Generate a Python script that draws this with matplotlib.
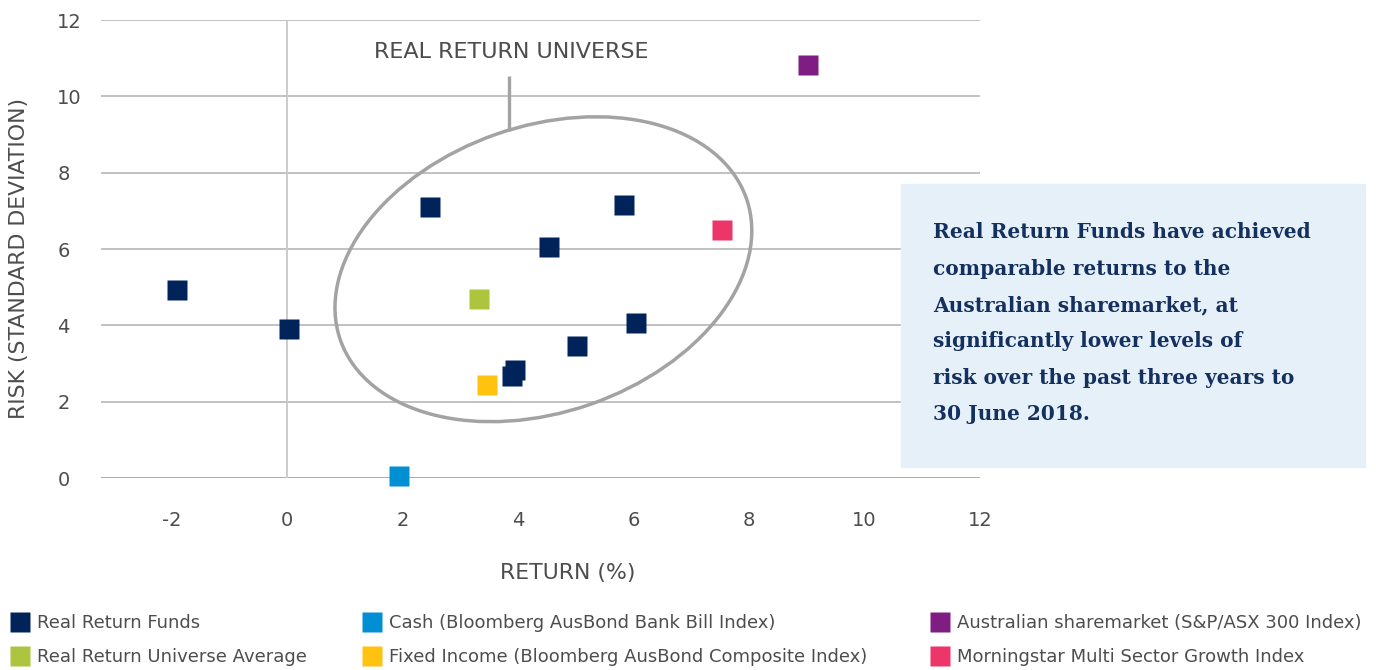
import matplotlib.pyplot as plt
from matplotlib.patches import Ellipse, Rectangle
from matplotlib.lines import Line2D
from matplotlib.transforms import ScaledTranslation

# data: return (%) vs risk (standard deviation)
funds_return = [-1.91, 0.04, 2.48, 4.53, 5.84, 6.05, 5.03, 3.94, 3.89]
funds_risk = [4.93, 3.90, 7.10, 6.05, 7.15, 4.07, 3.46, 2.84, 2.68]

universe_avg_return = [3.32]
universe_avg_risk = [4.69]
cash_return = [1.94]
cash_risk = [0.05]
fixed_income_return = [3.47]
fixed_income_risk = [2.44]
shares_return = [9.03]
shares_risk = [10.81]
morningstar_return = [7.54]
morningstar_risk = [6.50]

x_ticks = [-2, 0, 2, 4, 6, 8, 10, 12]
y_ticks = [0, 2, 4, 6, 8, 10, 12]

series = [
    ('Real Return Funds', funds_return, funds_risk, '#00245a'),
    ('Real Return Universe Average', universe_avg_return, universe_avg_risk, '#adc43f'),
    ('Cash (Bloomberg AusBond Bank Bill Index)', cash_return, cash_risk, '#008fd3'),
    ('Fixed Income (Bloomberg AusBond Composite Index)', fixed_income_return, fixed_income_risk, '#ffc20e'),
    ('Australian sharemarket (S&P/ASX 300 Index)', shares_return, shares_risk, '#801d82'),
    ('Morningstar Multi Sector Growth Index', morningstar_return, morningstar_risk, '#ec3569'),
]

callout = ['Real Return Funds have achieved',
           'comparable returns to the',
           'Australian sharemarket, at',
           'significantly lower levels of',
           'risk over the past three years to',
           '30 June 2018.']

grey_text = '#4d4d4f'
W, H = 1376, 670

fig = plt.figure(figsize=(13.76, 6.70), dpi=100)
ax = fig.add_axes([101 / W, 1 - 478 / H, (980 - 101) / W, (478 - 20) / H])
ax.set_xlim(-3.22, 12)
ax.set_ylim(0, 12)
for s in ax.spines.values():
    s.set_visible(False)

# gridlines
for yv in y_ticks:
    ax.axhline(yv, color='#a8a8a8' if yv == 0 else '#bcbcbc', lw=1.3, zorder=1)
ax.plot([0, 0], [0, 12], color='#c8c8c8', lw=1.3, zorder=1)

ms = 13.7
for name, xs, ys, col in series:
    ax.plot(xs, ys, ls='none', marker='s', ms=ms, color=col, mec='none',
            clip_on=False, zorder=5)

# universe ellipse (size in inches around a data-space centre)
ell = Ellipse((0, 0), width=4.30, height=2.86, angle=19.2, fill=False,
              ec='#a3a3a5', lw=2.5,
              transform=fig.dpi_scale_trans + ScaledTranslation(4.44, 5.47, ax.transData),
              zorder=4)
ax.add_patch(ell)
ax.plot([3.84, 3.84], [9.10, 10.52], color='#a3a3a5', lw=2.4, zorder=4, solid_capstyle='butt')
ax.text(3.88, 11.16, 'REAL RETURN UNIVERSE', ha='center', va='center',
        fontsize=16, color=grey_text)

ax.set_xticks(x_ticks)
ax.set_xticklabels([str(v) for v in x_ticks])
ax.set_yticks(y_ticks)
ax.set_yticklabels([str(v) for v in y_ticks])
ax.tick_params(axis='x', length=0, pad=24, labelsize=14, labelcolor=grey_text)
ax.tick_params(axis='y', length=0, pad=31.5, labelsize=14, labelcolor=grey_text)
for lab in ax.get_yticklabels():
    lab.set_ha('left')

ax.set_xlabel('RETURN (%)', fontsize=15.8, color=grey_text, va='center')
ax.xaxis.set_label_coords((568 - 101) / (980 - 101), -(573 - 478) / (478 - 20))
ax.set_ylabel('RISK (STANDARD DEVIATION)', fontsize=15.8, color=grey_text, va='center')
ax.yaxis.set_label_coords(-(101 - 19) / (980 - 101), (478 - 258) / (478 - 20))

# callout box
fig.patches.append(Rectangle((901 / W, 1 - 466.7 / H), 464 / W, 282.7 / H,
                             transform=fig.transFigure, color='#e6f0f9', zorder=0))
for i, line in enumerate(callout):
    fig.text(933 / W, 1 - (238.3 + 36.3 * i) / H, line, ha='left', va='baseline',
             fontsize=14.5, fontweight='bold', family='DejaVu Serif', color='#14305e')

# legend, three columns of two
col_x = [10, 362, 930]
for c in range(3):
    handles = []
    for name, xs, ys, col in series[2 * c:2 * c + 2]:
        handles.append(Line2D([], [], ls='none', marker='s', ms=ms, color=col, mec='none', label=name))
    fig.legend(handles=handles, loc='center left', bbox_to_anchor=(col_x[c] / W, 1 - 640 / H),
               frameon=False, fontsize=13, handlelength=1.06, handletextpad=0.45,
               labelspacing=0.9, borderpad=0, borderaxespad=0, labelcolor=grey_text)

fig.savefig('out.png', dpi=100)
